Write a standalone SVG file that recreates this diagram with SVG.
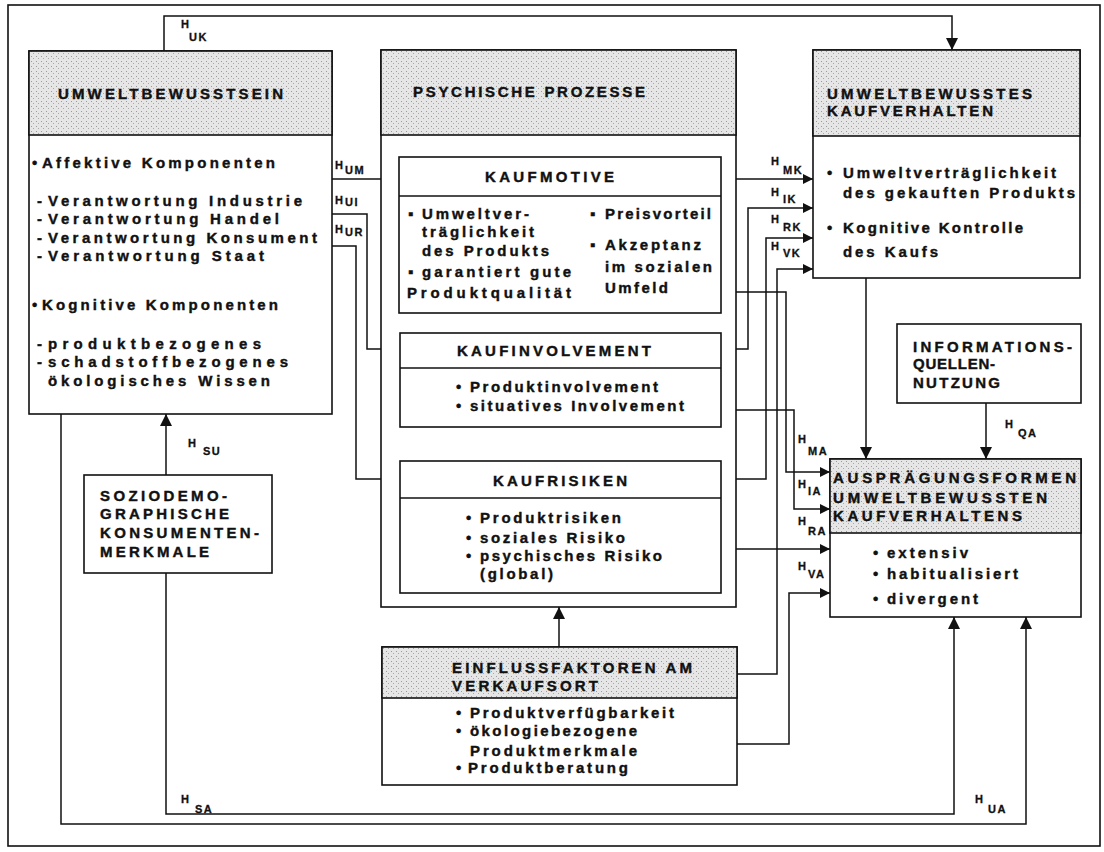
<svg xmlns="http://www.w3.org/2000/svg" width="1104" height="852" viewBox="0 0 1104 852">
<style>
.bx{fill:#fff;stroke:#111;stroke-width:1.6}
.hd{fill:url(#dots);stroke:#111;stroke-width:1.6}
.dv{stroke:#111;stroke-width:1.6}
.c{fill:none;stroke:#111;stroke-width:1.5}
.t{font-family:"Liberation Sans",Arial,Helvetica,sans-serif;font-weight:bold;font-size:15px;fill:#111;stroke:#111;stroke-width:0.4}
.l{font-family:"Liberation Sans",Arial,Helvetica,sans-serif;font-weight:bold;font-size:11px;fill:#111;letter-spacing:1.5px;stroke:#111;stroke-width:0.3}
</style>
<defs>
<pattern id="dots" width="5" height="5" patternUnits="userSpaceOnUse">
<rect width="5" height="5" fill="#e6e6e6"/>
<rect x="1" y="1" width="1" height="1" fill="#9a9a9a"/>
<rect x="3" y="3" width="1" height="1" fill="#a8a8a8"/>
</pattern>
<marker id="a" viewBox="0 0 10 10" refX="10" refY="5" markerWidth="11" markerHeight="10" markerUnits="userSpaceOnUse" orient="auto">
<path d="M0,0 L10,5 L0,10 z" fill="#111"/>
</marker>
<marker id="A" viewBox="0 0 10 10" refX="10" refY="5" markerWidth="14" markerHeight="12" markerUnits="userSpaceOnUse" orient="auto">
<path d="M0,0 L10,5 L0,10 z" fill="#111"/>
</marker>
</defs>
<rect x="8" y="5" width="1092" height="841" fill="#fff" stroke="#111" stroke-width="1.6"/>

<g id="connectors">
<polyline class="c" points="164,51 164,16 952,16 952,50" marker-end="url(#A)"/>
<polyline class="c" points="332,179 399,179"/>
<polyline class="c" points="332,214 367,214 367,349 400,349"/>
<polyline class="c" points="332,246 356,246 356,479 400,479"/>
<polyline class="c" points="721,179 813,179" marker-end="url(#a)"/>
<polyline class="c" points="721,349 748,349 748,208 813,208" marker-end="url(#a)"/>
<polyline class="c" points="721,479 766,479 766,238 813,238" marker-end="url(#a)"/>
<polyline class="c" points="737,674 777,674 777,269 813,269" marker-end="url(#a)"/>
<polyline class="c" points="721,292 786,292 786,472 830,472" marker-end="url(#a)"/>
<polyline class="c" points="721,410 794,410 794,509 830,509" marker-end="url(#a)"/>
<polyline class="c" points="721,549 830,549" marker-end="url(#a)"/>
<polyline class="c" points="737,744 789,744 789,593 830,593" marker-end="url(#a)"/>
<polyline class="c" points="866,278 866,459" marker-end="url(#A)"/>
<polyline class="c" points="986,403 986,459" marker-end="url(#A)"/>
<polyline class="c" points="166,475 166,414" marker-end="url(#A)"/>
<polyline class="c" points="559,647 559,607" marker-end="url(#A)"/>
<polyline class="c" points="166,573 166,814 954,814 954,617" marker-end="url(#A)"/>
<polyline class="c" points="61,414 61,824 1026,824 1026,617" marker-end="url(#A)"/>
<text class="l" x="181" y="28">H</text><text class="l" x="189" y="41">UK</text>
<text class="l" x="335" y="169">H</text><text class="l" x="345" y="174">UM</text>
<text class="l" x="335" y="204">H</text><text class="l" x="345" y="206">UI</text>
<text class="l" x="335" y="233">H</text><text class="l" x="345" y="236">UR</text>
<text class="l" x="771" y="165">H</text><text class="l" x="783" y="174">MK</text>
<text class="l" x="771" y="196">H</text><text class="l" x="783" y="203">IK</text>
<text class="l" x="771" y="223">H</text><text class="l" x="783" y="231">RK</text>
<text class="l" x="771" y="250">H</text><text class="l" x="783" y="257">VK</text>
<text class="l" x="798" y="443">H</text><text class="l" x="808" y="455">MA</text>
<text class="l" x="798" y="488">H</text><text class="l" x="808" y="495">IA</text>
<text class="l" x="798" y="525">H</text><text class="l" x="808" y="535">RA</text>
<text class="l" x="798" y="570">H</text><text class="l" x="808" y="578">VA</text>
<text class="l" x="1005" y="428">H</text><text class="l" x="1018" y="437">QA</text>
<text class="l" x="188" y="447">H</text><text class="l" x="203" y="455">SU</text>
<text class="l" x="181" y="803">H</text><text class="l" x="195" y="813">SA</text>
<text class="l" x="975" y="803">H</text><text class="l" x="988" y="813">UA</text>
</g>

<g id="umweltbewusstsein">
<rect class="bx" x="29" y="51" width="303" height="363"/>
<rect class="hd" x="29" y="51" width="303" height="84"/>
<text class="t" x="58" y="99" textLength="225">UMWELTBEWUSSTSEIN</text>
<text class="t" x="32" y="168">•</text><text class="t" x="42" y="168" textLength="233">Affektive Komponenten</text>
<text class="t" x="37" y="206">-</text><text class="t" x="48" y="206" textLength="254">Verantwortung Industrie</text>
<text class="t" x="37" y="224">-</text><text class="t" x="48" y="224" textLength="231">Verantwortung Handel</text>
<text class="t" x="37" y="243">-</text><text class="t" x="48" y="243" textLength="269">Verantwortung Konsument</text>
<text class="t" x="37" y="261">-</text><text class="t" x="48" y="261" textLength="216">Verantwortung Staat</text>
<text class="t" x="32" y="310">•</text><text class="t" x="42" y="310" textLength="236">Kognitive Komponenten</text>
<text class="t" x="37" y="349">-</text><text class="t" x="48" y="349" textLength="213">produktbezogenes</text>
<text class="t" x="37" y="367">-</text><text class="t" x="48" y="367" textLength="240">schadstoffbezogenes</text>
<text class="t" x="48" y="386" textLength="222">ökologisches Wissen</text>
</g>

<g id="psychische-prozesse">
<rect class="bx" x="381" y="50" width="355" height="557"/>
<rect class="hd" x="381" y="50" width="355" height="85"/>
<text class="t" x="413" y="97" textLength="232">PSYCHISCHE PROZESSE</text>
</g>

<g id="kaufmotive">
<rect class="bx" x="399" y="157" width="322" height="156"/>
<line class="dv" x1="399" y1="196" x2="721" y2="196"/>
<text class="t" x="485" y="182" textLength="129">KAUFMOTIVE</text>
<text class="t" x="408" y="219">▪</text><text class="t" x="422" y="219" textLength="107">Umweltver-</text>
<text class="t" x="422" y="237" textLength="112">träglichkeit</text>
<text class="t" x="422" y="256" textLength="127">des Produkts</text>
<text class="t" x="408" y="277">▪</text><text class="t" x="422" y="277" textLength="149">garantiert gute</text>
<text class="t" x="407" y="298" textLength="164">Produktqualität</text>
<text class="t" x="590" y="219">▪</text><text class="t" x="605" y="219" textLength="106">Preisvorteil</text>
<text class="t" x="590" y="250">▪</text><text class="t" x="605" y="250" textLength="96">Akzeptanz</text>
<text class="t" x="605" y="272" textLength="107">im sozialen</text>
<text class="t" x="605" y="293" textLength="63">Umfeld</text>
</g>

<g id="kaufinvolvement">
<rect class="bx" x="400" y="333" width="321" height="94"/>
<line class="dv" x1="400" y1="368" x2="721" y2="368"/>
<text class="t" x="457" y="356" textLength="194">KAUFINVOLVEMENT</text>
<text class="t" x="456" y="392">•</text><text class="t" x="470" y="392" textLength="188">Produktinvolvement</text>
<text class="t" x="456" y="411">•</text><text class="t" x="470" y="411" textLength="214">situatives Involvement</text>
</g>

<g id="kaufrisiken">
<rect class="bx" x="400" y="461" width="321" height="132"/>
<line class="dv" x1="400" y1="498" x2="721" y2="498"/>
<text class="t" x="493" y="486" textLength="134">KAUFRISIKEN</text>
<text class="t" x="466" y="523">•</text><text class="t" x="480" y="523" textLength="141">Produktrisiken</text>
<text class="t" x="466" y="543">•</text><text class="t" x="480" y="543" textLength="145">soziales Risiko</text>
<text class="t" x="466" y="561">•</text><text class="t" x="480" y="561" textLength="182">psychisches Risiko</text>
<text class="t" x="480" y="579" textLength="73">(global)</text>
</g>

<g id="umweltbewusstes-kaufverhalten">
<rect class="bx" x="813" y="50" width="267" height="228"/>
<rect class="hd" x="813" y="50" width="267" height="86"/>
<text class="t" x="827" y="99" textLength="205">UMWELTBEWUSSTES</text>
<text class="t" x="827" y="116" textLength="166">KAUFVERHALTEN</text>
<text class="t" x="827" y="178">•</text><text class="t" x="843" y="178" textLength="213">Umweltverträglichkeit</text>
<text class="t" x="843" y="198" textLength="232">des gekauften Produkts</text>
<text class="t" x="827" y="233">•</text><text class="t" x="843" y="233" textLength="180">Kognitive Kontrolle</text>
<text class="t" x="843" y="257" textLength="95">des Kaufs</text>
</g>

<g id="informationsquellennutzung">
<rect class="bx" x="897" y="324" width="184" height="79"/>
<text class="t" x="913" y="352" textLength="159">INFORMATIONS-</text>
<text class="t" x="913" y="369" textLength="82">QUELLEN-</text>
<text class="t" x="913" y="388" textLength="87">NUTZUNG</text>
</g>

<g id="auspraegungsformen">
<rect class="bx" x="830" y="459" width="251" height="158"/>
<rect class="hd" x="830" y="459" width="251" height="74"/>
<text class="t" x="833" y="483" textLength="243">AUSPRÄGUNGSFORMEN</text>
<text class="t" x="833" y="503" textLength="214">UMWELTBEWUSSTEN</text>
<text class="t" x="833" y="521" textLength="189">KAUFVERHALTENS</text>
<text class="t" x="873" y="558">•</text><text class="t" x="887" y="558" textLength="81">extensiv</text>
<text class="t" x="873" y="579">•</text><text class="t" x="887" y="579" textLength="131">habitualisiert</text>
<text class="t" x="873" y="604">•</text><text class="t" x="887" y="604" textLength="91">divergent</text>
</g>

<g id="soziodemographische-merkmale">
<rect class="bx" x="84" y="475" width="188" height="98"/>
<text class="t" x="100" y="501" textLength="127">SOZIODEMO-</text>
<text class="t" x="100" y="519" textLength="129">GRAPHISCHE</text>
<text class="t" x="100" y="538" textLength="159">KONSUMENTEN-</text>
<text class="t" x="100" y="557" textLength="109">MERKMALE</text>
</g>

<g id="einflussfaktoren">
<rect class="bx" x="382" y="647" width="355" height="138"/>
<rect class="hd" x="382" y="647" width="355" height="51"/>
<text class="t" x="452" y="673" textLength="240">EINFLUSSFAKTOREN AM</text>
<text class="t" x="452" y="691" textLength="146">VERKAUFSORT</text>
<text class="t" x="456" y="718">•</text><text class="t" x="470" y="718" textLength="204">Produktverfügbarkeit</text>
<text class="t" x="456" y="736">•</text><text class="t" x="470" y="736" textLength="167">ökologiebezogene</text>
<text class="t" x="470" y="756" textLength="167">Produktmerkmale</text>
<text class="t" x="456" y="773">•</text><text class="t" x="468" y="773" textLength="160">Produktberatung</text>
</g>
</svg>
